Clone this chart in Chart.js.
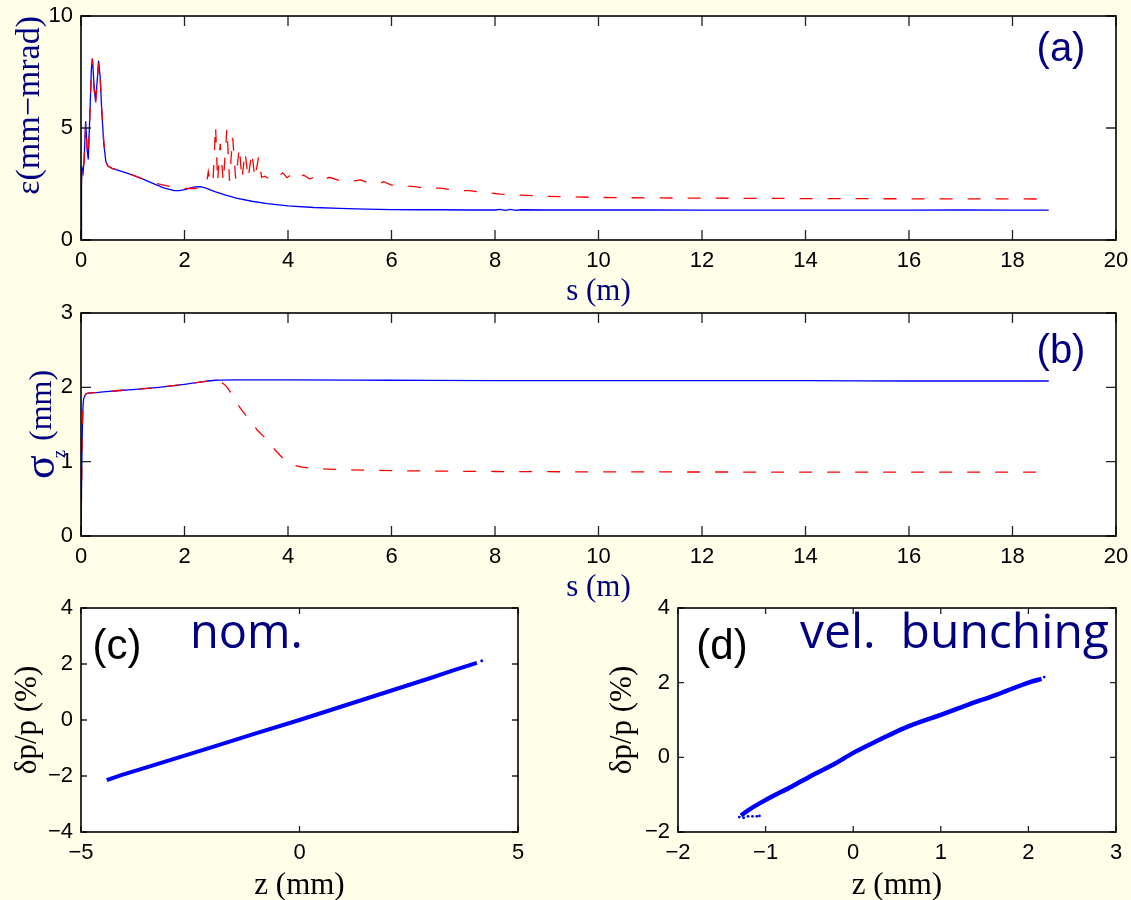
<!DOCTYPE html>
<html><head><meta charset="utf-8">
<script src="https://cdn.jsdelivr.net/npm/chart.js@4.4.1/dist/chart.umd.min.js"></script>
<style>
html,body{margin:0;padding:0;background:#FFFEE8;}
#wrap{position:relative;width:1131px;height:900px;overflow:hidden;background:#FFFEE8;}
canvas{position:absolute;}
</style></head><body>
<div id="wrap">
<canvas id="ca" width="1131" height="312" style="left:0;top:0"></canvas>
<canvas id="cb" width="1131" height="310" style="left:0;top:300px"></canvas>
<canvas id="cc" width="560" height="310" style="left:0;top:595px"></canvas>
<canvas id="cd" width="571" height="310" style="left:560px;top:595px"></canvas>
</div>
<script>
// ---------- data: panel (a) emittance vs s ----------
const sA_blue = [0,0.01,0.02,0.04,0.06,0.09,0.12,0.14,0.17,0.20,0.22,0.25,0.28,0.31,0.34,0.37,0.40,0.44,0.48,0.52,0.6,0.8,1.0,1.2,1.4,1.6,1.8,1.9,2.0,2.1,2.2,2.3,2.4,2.6,2.8,3.0,3.3,3.6,4.0,4.5,5.0,5.5,6.0,6.5,7.0,7.5,8.0,8.1,8.2,8.3,8.4,8.5,9.0,10,11,12,13,14,15,16,17,18,18.7];
const epsA_blue = [0,2.6,3.2,3.0,3.6,5.3,4.0,3.6,5.5,7.6,8.1,7.0,6.2,7.0,8.0,7.3,5.8,4.3,3.5,3.3,3.2,3.05,2.9,2.72,2.52,2.33,2.2,2.2,2.25,2.32,2.37,2.38,2.33,2.15,2.0,1.87,1.73,1.62,1.52,1.45,1.41,1.38,1.36,1.35,1.35,1.34,1.34,1.37,1.32,1.37,1.32,1.35,1.34,1.34,1.34,1.33,1.33,1.33,1.33,1.33,1.34,1.33,1.33];
const sA_red = [0,0.01,0.02,0.04,0.06,0.09,0.12,0.14,0.17,0.20,0.22,0.25,0.28,0.31,0.34,0.37,0.40,0.44,0.48,0.52,0.6,0.8,1.0,1.2,1.4,1.6,1.8,2.0,2.2,2.35,2.42,2.46,2.50,2.55,2.60,2.64,2.69,2.75,2.82,2.87,2.93,2.99,3.06,3.11,3.17,3.23,3.30,3.36,3.43,3.49,3.55,3.62,3.70,3.78,3.90,3.98,4.08,4.18,4.30,4.42,4.55,4.68,4.80,5.0,5.2,5.4,5.55,5.7,5.85,6.0,6.25,6.45,6.7,6.95,7.2,7.5,7.8,8.1,8.5,9.0,10,11,12,14,16,18.7];
const epsA_red = [0,2.8,3.2,3.0,3.5,5.2,4.0,3.7,5.4,7.5,8.1,6.8,6.0,6.9,7.9,7.3,5.9,4.4,3.5,3.3,3.2,3.05,2.9,2.72,2.55,2.45,2.35,2.3,2.3,2.35,2.45,3.05,2.5,2.55,5.1,2.6,4.3,2.6,5.0,2.65,4.6,2.7,4.15,2.7,3.95,2.75,3.93,2.75,3.7,2.8,2.85,2.75,2.9,2.8,3.0,2.78,2.95,2.75,2.9,2.72,2.85,2.68,2.8,2.65,2.62,2.68,2.55,2.5,2.6,2.45,2.42,2.38,2.3,2.32,2.22,2.2,2.12,2.05,2.0,1.95,1.9,1.88,1.87,1.85,1.84,1.83];
// ---------- data: panel (b) bunch length vs s ----------
const sB_blue = [0,0.01,0.02,0.04,0.07,0.12,0.3,0.6,1.0,1.5,2.0,2.3,2.6,3.0,4,6,8,10,12,14,16,18.7];
const sigB_blue = [0,0.6,1.2,1.75,1.88,1.92,1.93,1.95,1.97,2.0,2.04,2.07,2.095,2.1,2.1,2.095,2.09,2.09,2.09,2.09,2.085,2.085];
const sB_red = [0,0.01,0.02,0.04,0.07,0.12,0.3,0.6,1.0,1.5,2.0,2.3,2.6,2.7,2.8,2.9,3.0,3.1,3.2,3.3,3.4,3.5,3.6,3.7,3.8,3.9,4.0,4.1,4.25,4.5,5,6,8,10,14,18.7];
const sigB_red = [0,0.6,1.2,1.75,1.88,1.92,1.93,1.95,1.97,2.0,2.04,2.07,2.09,2.07,2.02,1.92,1.8,1.7,1.61,1.52,1.43,1.36,1.29,1.2,1.12,1.05,0.99,0.955,0.93,0.91,0.895,0.88,0.868,0.863,0.86,0.858];
// ---------- data: panel (c) nominal phase space ----------
const zC = [-4.41,-4.08,-3.5,-3.0,-2.0,-1.0,0,1.0,2.0,3.0,3.5,4.06];
const dpC = [-2.15,-1.97,-1.69,-1.45,-0.97,-0.48,0,0.5,1.0,1.5,1.76,2.04];
const zC_dot = [4.17];
const dpC_dot = [2.12];
// ---------- data: panel (d) velocity bunching phase space ----------
const zD = [-1.28,-1.2,-0.99,-0.7,-0.45,-0.2,0.0,0.3,0.59,1.0,1.3,1.64,2.01,2.15];
const dpD = [-1.56,-1.42,-1.13,-0.78,-0.46,-0.16,0.12,0.47,0.79,1.14,1.4,1.68,2.01,2.1];
const zD_dots = [-1.3,-1.25,-1.2,-1.15,-1.1,-1.07,2.18];
const dpD_dots = [-1.6,-1.62,-1.58,-1.58,-1.58,-1.57,2.15];
// ---------- tick values ----------
const xTicksAB = [0,2,4,6,8,10,12,14,16,18,20];
const yTicksA = [0,5,10];
const yTicksB = [0,1,2,3];
const xTicksC = [-5,0,5];
const yTicksC = [-4,-2,0,2,4];
const xTicksD = [-2,-1,0,1,2,3];
const yTicksD = [-2,0,2,4];

const NAVY = '#000080';
const SANS = '"Liberation Sans", Arial, sans-serif';
const SERIF = '"Liberation Serif", "Times New Roman", serif';
const tickFont = {family: SANS, size: 22};
const fmt = v => String(v).replace('-', '\u2212');
const pts = (xs, ys) => xs.map((x, i) => ({x: x, y: ys[i]}));

function scaleOpts(min, max, tickVals, fitSize, isX, title) {
  return {
    type: 'linear', min: min, max: max,
    position: isX ? 'bottom' : 'left',
    afterBuildTicks: s => { s.ticks = tickVals.map(v => ({value: v})); },
    afterFit: s => {
      if (isX) s.height = fitSize; else s.width = fitSize;
      s.paddingLeft = 0; s.paddingRight = 0; s.paddingTop = 0; s.paddingBottom = 0;
    },
    grid: {display: false, drawTicks: false},
    border: {display: false},
    ticks: {color: '#000', font: tickFont, padding: 8, autoSkip: false, maxRotation: 0, callback: v => fmt(v)},
    title: title || {display: false}
  };
}
function titleOpts(text, color, pad, align, size) {
  return {display: true, text: text, color: color, align: align || 'center',
    font: {family: SERIF, size: size || 31, lineHeight: 1}, padding: pad};
}

const boxPlugin = {
  id: 'mbox',
  beforeDraw(chart) {
    const {ctx, chartArea: a} = chart;
    ctx.save(); ctx.fillStyle = '#ffffff';
    ctx.fillRect(a.left, a.top, a.right - a.left, a.bottom - a.top); ctx.restore();
  },
  afterDatasetsDraw(chart, args, o) {
    const {ctx, chartArea: a, scales} = chart;
    const L = o.tick || 9;
    ctx.save(); ctx.strokeStyle = '#222'; ctx.lineWidth = 1.3;
    ctx.beginPath();
    scales.x.ticks.forEach(t => {
      const p = scales.x.getPixelForValue(t.value);
      ctx.moveTo(p, a.bottom); ctx.lineTo(p, a.bottom - L);
      ctx.moveTo(p, a.top); ctx.lineTo(p, a.top + L);
    });
    scales.y.ticks.forEach(t => {
      const p = scales.y.getPixelForValue(t.value);
      ctx.moveTo(a.left, p); ctx.lineTo(a.left + L, p);
      ctx.moveTo(a.right, p); ctx.lineTo(a.right - L, p);
    });
    ctx.stroke();
    ctx.strokeStyle = '#000'; ctx.lineWidth = 1.6;
    ctx.strokeRect(a.left, a.top, a.right - a.left, a.bottom - a.top);
    ctx.restore();
  }
};
Chart.register(boxPlugin);

function textPlugin(items) {
  return {
    id: 'txt',
    afterDraw(chart) {
      const ctx = chart.ctx;
      items.forEach(it => {
        ctx.save();
        ctx.font = it.font; ctx.fillStyle = it.color;
        ctx.textAlign = it.align || 'left'; ctx.textBaseline = 'alphabetic';
        ctx.translate(it.x, it.y);
        if (it.rot) ctx.rotate(it.rot);
        ctx.fillText(it.text, 0, 0);
        ctx.restore();
      });
    }
  };
}

function lineDs(xs, ys, color, dash, width, extra) {
  return Object.assign({data: pts(xs, ys), showLine: true, borderColor: color, backgroundColor: color,
    borderWidth: width, borderDash: dash || [], pointRadius: 0, tension: 0}, extra || {});
}

function make(id, datasets, scales, padding, tickLen, texts) {
  return new Chart(document.getElementById(id), {
    type: 'scatter',
    data: {datasets: datasets},
    options: {
      responsive: false, animation: false, events: [],
      layout: {padding: padding},
      scales: scales,
      plugins: {legend: {display: false}, tooltip: {enabled: false}, mbox: {tick: tickLen}}
    },
    plugins: [textPlugin(texts)]
  });
}

// (a)  (dataset 0 is drawn on top)
make('ca', [
  lineDs(sA_red, epsA_red, '#FF0000', [13, 15], 1.3),
  lineDs(sA_blue, epsA_blue, '#0000FF', null, 1.3)
], {
  x: scaleOpts(0, 20, xTicksAB, 72, true, titleOpts('s (m)', NAVY, {top: 0, bottom: 4.5})),
  y: scaleOpts(0, 10, yTicksA, 81, false, titleOpts('\u03B5(mm\u2212mrad)', NAVY, {top: 13, bottom: 0}, 'end', 34))
}, {left: 0, top: 16, right: 15, bottom: 0}, 10, [
  {text: '(a)', x: 1061, y: 61, font: '40px ' + SANS, color: NAVY, align: 'center'}
]);

// (b)
make('cb', [
  lineDs(sB_red, sigB_red, '#FF0000', [13, 15], 1.3, {cubicInterpolationMode: 'monotone'}),
  lineDs(sB_blue, sigB_blue, '#0000FF', null, 1.3, {cubicInterpolationMode: 'monotone'})
], {
  x: scaleOpts(0, 20, xTicksAB, 74, true, titleOpts('s (m)', NAVY, {top: 0, bottom: 6.5})),
  y: scaleOpts(0, 3, yTicksB, 81, false)
}, {left: 0, top: 13, right: 15, bottom: 0}, 10, [
  {text: '(b)', x: 1061, y: 63, font: '40px ' + SANS, color: NAVY, align: 'center'},
  {text: '\u03C3', x: 54, y: 179, font: '44px ' + SERIF, color: NAVY, rot: -Math.PI / 2},
  {text: 'z', x: 65, y: 158, font: '18px ' + SERIF, color: NAVY, rot: -Math.PI / 2},
  {text: '(mm)', x: 51, y: 141, font: '32px ' + SERIF, color: NAVY, rot: -Math.PI / 2}
]);

// (c)
make('cc', [
  lineDs(zC, dpC, '#0000FF', null, 4),
  {data: pts(zC_dot, dpC_dot), showLine: false, pointRadius: 1.5, backgroundColor: '#0000FF', borderWidth: 0}
], {
  x: scaleOpts(-5, 5, xTicksC, 73, true, titleOpts('z (mm)', '#000', {top: 0, bottom: 3.5})),
  y: scaleOpts(-4, 4, yTicksC, 81, false, titleOpts('\u03B4p/p (%)', '#000', {top: 12, bottom: 0}))
}, {left: 0, top: 13, right: 42, bottom: 0}, 6, [
  {text: '(c)', x: 117, y: 64, font: '42px ' + SANS, color: '#000', align: 'center'},
  {text: 'nom.', x: 190, y: 53, font: '47px "Open Sans", ' + SANS, color: NAVY}
]);

// (d)
make('cd', [
  lineDs(zD, dpD, '#0000FF', null, 4.5, {cubicInterpolationMode: 'monotone'}),
  {data: pts(zD_dots, dpD_dots), showLine: false, pointRadius: 1.4, backgroundColor: '#0000FF', borderWidth: 0}
], {
  x: scaleOpts(-2, 3, xTicksD, 73, true, titleOpts('z (mm)', '#000', {top: 0, bottom: 3.5})),
  y: scaleOpts(-2, 4, yTicksD, 118, false, titleOpts('\u03B4p/p (%)', '#000', {top: 47, bottom: 0}))
}, {left: 0, top: 13, right: 15, bottom: 0}, 6, [
  {text: '(d)', x: 162, y: 64, font: '42px ' + SANS, color: '#000', align: 'center'},
  {text: 'vel.  bunching', x: 240, y: 53, font: '48px "Open Sans", ' + SANS, color: NAVY}
]);
</script>
</body></html>
